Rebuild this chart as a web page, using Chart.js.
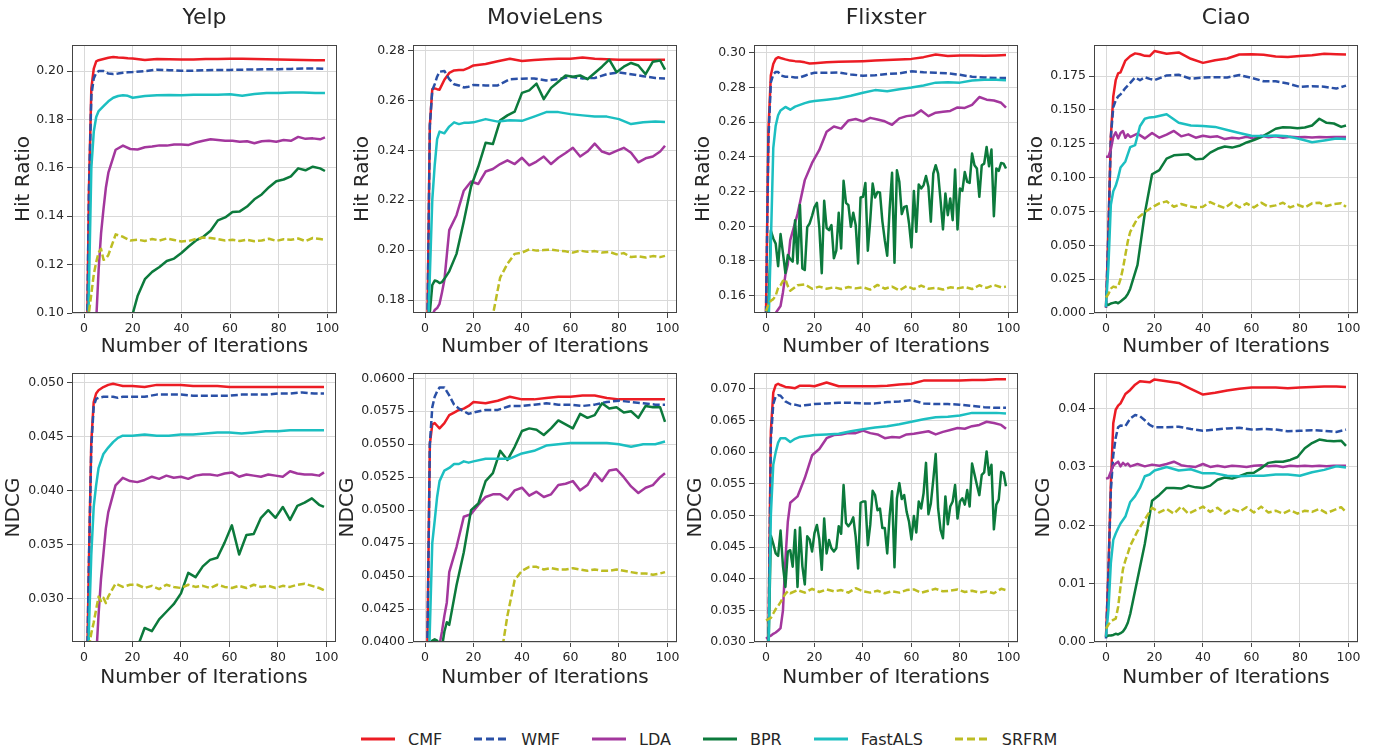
<!DOCTYPE html>
<html>
<head>
<meta charset="utf-8">
<script src="https://cdn.jsdelivr.net/npm/chart.js@4.4.1/dist/chart.umd.min.js"></script>
<style>
  body { margin: 0; background: #fff; width: 1375px; height: 751px; position: relative; overflow: hidden; font-family: 'DejaVu Sans', sans-serif; }
  canvas { position: absolute; }
  #legend { position: absolute; left: 361px; top: 729px; height: 20px; display: flex; align-items: center; gap: 32px; font-size: 16px; color: #262626; }
  #legend .item { display: flex; align-items: center; }
  #legend svg { margin-right: 13px; }
</style>
</head>
<body>
<div id="legend"></div>
<script>
// iterations (x values)
const ITER_S = [0,1,2,3,4,5,6,8,10,12,14,16,18,20,25,30,35,40,45,50,55,60,65,70,75,80,85,90,95,99];
const ITER_N = [0,1,2,3,4,5,6,7,8,9,10,13,16,19,22,25,28,31,34,37,40,43,46,49,52,55,58,61,64,67,70,73,76,79,82,85,88,91,94,97,99];
const ITER_F = Array.from({ length: 100 }, (_, i) => i);

const SERIES = ["CMF", "WMF", "LDA", "BPR", "FastALS", "SRFRM"];
const X_TICKS = [0, 20, 40, 60, 80, 100];

// tick labels of the y axes
const YELP_HR_TICKS = ["0.10", "0.12", "0.14", "0.16", "0.18", "0.20"];
const ML_HR_TICKS = ["0.18", "0.20", "0.22", "0.24", "0.26", "0.28"];
const FX_HR_TICKS = ["0.16", "0.18", "0.20", "0.22", "0.24", "0.26", "0.28", "0.30"];
const CI_HR_TICKS = ["0.000", "0.025", "0.050", "0.075", "0.100", "0.125", "0.150", "0.175"];
const YELP_ND_TICKS = ["0.030", "0.035", "0.040", "0.045", "0.050"];
const ML_ND_TICKS = ["0.0400", "0.0425", "0.0450", "0.0475", "0.0500", "0.0525", "0.0550", "0.0575", "0.0600"];
const FX_ND_TICKS = ["0.030", "0.035", "0.040", "0.045", "0.050", "0.055", "0.060", "0.065", "0.070"];
const CI_ND_TICKS = ["0.00", "0.01", "0.02", "0.03", "0.04"];

// ---- Yelp / Hit Ratio
const YELP_HR_CMF = [0.01,0.07,0.15,0.193,0.201,0.204,0.2045,0.205,0.2055,0.2058,0.2056,0.2055,0.2053,0.2052,0.2046,0.2050,0.2049,0.2048,0.2048,0.2050,0.2050,0.2051,0.2051,0.2050,0.2049,0.2048,0.2047,0.2046,0.2045,0.2045];
const YELP_HR_WMF = [0.01,0.07,0.15,0.19,0.197,0.1992,0.2000,0.2000,0.1990,0.1988,0.1990,0.1993,0.1995,0.1996,0.2000,0.2006,0.2004,0.2002,0.2002,0.2004,0.2005,0.2005,0.2006,0.2007,0.2008,0.2008,0.2009,0.2011,0.2011,0.2009];
const YELP_HR_FAST = [0.0,0.04,0.11,0.16,0.175,0.181,0.1835,0.1855,0.1875,0.189,0.1897,0.1900,0.1898,0.1890,0.1897,0.1900,0.1901,0.1900,0.1902,0.1902,0.1902,0.1904,0.1898,0.1905,0.1910,0.1910,0.1912,0.1912,0.1910,0.1910];
const YELP_HR_LDA = [0.0,0.02,0.04,0.06,0.08,0.097,0.118,0.133,0.143,0.152,0.158,0.1675,0.1692,0.1678,0.1676,0.1685,0.1688,0.1693,0.1692,0.1697,0.1697,0.1695,0.1705,0.1712,0.1718,0.1715,0.1712,0.1712,0.1708,0.1710,0.1702,0.1710,0.1712,0.1708,0.1715,0.1712,0.1728,0.1720,0.1722,0.1718,0.1726];
const YELP_HR_BPR = [null,null,null,null,null,null,null,null,null,null,null,null,0.07,0.096,0.107,0.114,0.117,0.119,0.1215,0.1225,0.1248,0.1275,0.130,0.1315,0.134,0.1383,0.1395,0.1418,0.142,0.144,0.147,0.149,0.152,0.1545,0.1552,0.1565,0.1598,0.159,0.1605,0.1598,0.1587];
const YELP_HR_SRFRM = [0.08,0.09,0.10,0.108,0.116,0.121,0.125,0.1265,0.122,0.1225,0.124,0.1325,0.1315,0.1300,0.1303,0.1298,0.1306,0.1300,0.1308,0.1302,0.1296,0.1298,0.1306,0.1312,0.1310,0.1305,0.1300,0.1303,0.1298,0.1303,0.1297,0.1300,0.1307,0.1298,0.1305,0.1303,0.1308,0.1297,0.1310,0.1306,0.1303];

// ---- MovieLens / Hit Ratio
const ML_HR_CMF = [0.10,0.17,0.25,0.2645,0.2648,0.2645,0.2643,0.2683,0.2710,0.2720,0.2722,0.2722,0.2730,0.2740,0.2746,0.2757,0.2767,0.2758,0.2762,0.2765,0.2767,0.2767,0.2772,0.2767,0.2765,0.2763,0.2763,0.2763,0.2763,0.2763];
const ML_HR_WMF = [0.10,0.17,0.25,0.264,0.2665,0.2695,0.2715,0.2718,0.2685,0.2665,0.2660,0.2652,0.2655,0.2662,0.2660,0.2660,0.2685,0.2687,0.2688,0.2680,0.2685,0.2695,0.2688,0.2690,0.2705,0.2712,0.2705,0.2697,0.2690,0.2688];
const ML_HR_FAST = [0.12,0.16,0.19,0.22,0.234,0.2445,0.2475,0.2468,0.2495,0.2512,0.2505,0.2510,0.2510,0.2512,0.2525,0.2515,0.2520,0.2518,0.2535,0.2553,0.2553,0.2545,0.2540,0.2535,0.2535,0.2525,0.2505,0.2512,0.2515,0.2513];
const ML_HR_LDA = [0.15,0.16,0.17,0.174,0.176,0.1768,0.1785,0.183,0.188,0.198,0.208,0.2140,0.2238,0.2275,0.2265,0.2315,0.2325,0.2345,0.2360,0.2345,0.2370,0.2340,0.2355,0.2375,0.2345,0.2370,0.2389,0.2410,0.2375,0.2395,0.2427,0.2395,0.2385,0.2398,0.2410,0.2390,0.2352,0.2368,0.2375,0.2395,0.2418];
const ML_HR_BPR = [0.14,0.15,0.175,0.186,0.1878,0.1875,0.1868,0.1872,0.1885,0.190,0.1915,0.1985,0.2115,0.2255,0.2335,0.2430,0.2425,0.2520,0.2540,0.2555,0.2630,0.2640,0.2667,0.2605,0.2650,0.2675,0.2700,0.2695,0.2700,0.2685,0.2710,0.2735,0.2763,0.2713,0.2735,0.2750,0.2740,0.2705,0.2755,0.2760,0.2723];
const ML_HR_SRFRM = [null,null,null,null,null,null,null,null,null,null,null,null,null,null,null,0.16,0.174,0.189,0.1945,0.1985,0.1990,0.2003,0.1998,0.2000,0.2002,0.1998,0.1995,0.1990,0.1998,0.1993,0.1996,0.1990,0.1993,0.1983,0.1988,0.1972,0.1975,0.1970,0.1976,0.1972,0.1977];

// ---- Flixster / Hit Ratio
const FX_HR_CMF = [0.15,0.255,0.287,0.2935,0.2965,0.2975,0.2970,0.2962,0.2955,0.2952,0.2950,0.2945,0.2938,0.2940,0.2945,0.2948,0.2950,0.2952,0.2955,0.2958,0.2962,0.2965,0.2975,0.2990,0.2982,0.2985,0.2985,0.2983,0.2985,0.2987];
const FX_HR_WMF = [0.15,0.25,0.283,0.2875,0.289,0.289,0.287,0.2862,0.2862,0.2858,0.2858,0.2868,0.2878,0.2885,0.2885,0.2887,0.2875,0.2868,0.2870,0.2878,0.2882,0.2893,0.2888,0.2885,0.2882,0.2873,0.2862,0.2858,0.2855,0.2855];
const FX_HR_FAST = [0.12,0.14,0.19,0.245,0.258,0.264,0.2668,0.2688,0.2672,0.2690,0.2700,0.2710,0.2718,0.2722,0.2730,0.2738,0.2752,0.2770,0.2785,0.2778,0.2790,0.2800,0.2812,0.2828,0.2830,0.2828,0.2840,0.2845,0.2845,0.2842];
const FX_HR_LDA = [0.14,0.142,0.145,0.148,0.150,0.152,0.154,0.162,0.172,0.178,0.192,0.207,0.2266,0.2365,0.2440,0.2545,0.2575,0.2563,0.2610,0.2618,0.2605,0.2625,0.2615,0.2605,0.2585,0.2622,0.2635,0.2640,0.2668,0.2635,0.2655,0.2660,0.2665,0.2685,0.2682,0.2700,0.2745,0.2730,0.2725,0.2712,0.2684];
const FX_HR_BPR = [
  0.12,0.150,0.1975,0.193,0.190,0.177,0.1955,0.1845,0.173,0.1834,
  0.181,0.1796,0.2035,0.1786,0.2122,0.1757,0.1748,0.1995,0.2016,0.2060,
  0.2110,0.2135,0.1990,0.1729,0.2147,0.1990,0.1978,0.2007,0.1815,0.1859,
  0.2078,0.1872,0.2262,0.2135,0.2122,0.1997,0.2078,0.2007,0.1786,0.2166,
  0.2170,0.2250,0.1859,0.2035,0.2246,0.2166,0.2198,0.2195,0.2030,0.1920,
  0.1830,0.2100,0.2308,0.1790,0.2323,0.2256,0.2070,0.2112,0.2116,0.2016,
  0.1878,0.2204,0.1968,0.2241,0.2218,0.2237,0.2290,0.2227,0.2026,0.2304,
  0.2352,0.2304,0.2150,0.1982,0.2189,0.2064,0.2160,0.2035,0.2327,0.1982,
  0.2218,0.2204,0.2313,0.2256,0.2250,0.2419,0.2352,0.2333,0.2170,0.2352,
  0.2361,0.2457,0.2346,0.2442,0.2058,0.2333,0.2319,0.2365,0.2361,0.2333];
const FX_HR_SRFRM = [0.151,0.155,0.157,0.158,0.160,0.1645,0.166,0.1685,0.1695,0.1655,0.1628,0.1660,0.1665,0.1640,0.1652,0.1640,0.1648,0.1638,0.1650,0.1642,0.1648,0.1635,0.1662,0.1640,0.1652,0.1630,0.1655,0.1638,0.1658,0.1640,0.1645,0.1635,0.1648,0.1642,0.1650,0.1638,0.1660,0.1645,0.1662,0.1648,0.1652];

// ---- Ciao / Hit Ratio
const CI_HR_CMF = [0.004,0.06,0.13,0.16,0.172,0.177,0.1778,0.1865,0.1898,0.1918,0.1912,0.1900,0.1898,0.1935,0.1915,0.1925,0.1878,0.1848,0.1868,0.1880,0.1910,0.1912,0.1908,0.1895,0.1892,0.1898,0.1905,0.1915,0.1912,0.1910];
const CI_HR_WMF = [0.004,0.06,0.13,0.152,0.157,0.160,0.1615,0.1662,0.1700,0.1740,0.1720,0.1742,0.1730,0.1720,0.1755,0.1760,0.1730,0.1740,0.1742,0.1740,0.1758,0.1738,0.1712,0.1712,0.1695,0.1670,0.1676,0.1672,0.1658,0.1680];
const CI_HR_FAST = [0.0045,0.035,0.080,0.090,0.094,0.100,0.1075,0.1120,0.1225,0.1240,0.1380,0.1435,0.1445,0.1448,0.1468,0.1405,0.1385,0.1382,0.1375,0.1352,0.1330,0.1310,0.1307,0.1312,0.1305,0.1285,0.1262,0.1275,0.1290,0.1285];
const CI_HR_LDA = [0.1155,0.1155,0.1210,0.1300,0.1335,0.1290,0.1330,0.1345,0.1295,0.1320,0.1300,0.1325,0.1290,0.1330,0.1295,0.1318,0.1345,0.1305,0.1320,0.1295,0.1310,0.1300,0.1305,0.1285,0.1295,0.1290,0.1302,0.1288,0.1310,0.1298,0.1305,0.1295,0.1302,0.1298,0.1300,0.1296,0.1300,0.1298,0.1300,0.1300,0.1300];
const CI_HR_BPR = [0.0065,0.0060,0.0070,0.0075,0.0080,0.0072,0.0085,0.0100,0.0115,0.0140,0.0180,0.0355,0.0735,0.1025,0.1055,0.1140,0.1165,0.1170,0.1172,0.1135,0.1140,0.1185,0.1213,0.1230,0.1222,0.1235,0.1260,0.1278,0.1300,0.1330,0.1361,0.1372,0.1370,0.1365,0.1370,0.1385,0.1435,0.1405,0.1400,0.1375,0.1385];
const CI_HR_SRFRM = [0.0115,0.0140,0.0180,0.0195,0.0190,0.0195,0.0250,0.0330,0.0430,0.0530,0.0600,0.0700,0.0745,0.0780,0.0810,0.0825,0.0785,0.0805,0.0790,0.0780,0.0785,0.0820,0.0795,0.0775,0.0815,0.0780,0.0810,0.0780,0.0815,0.0785,0.0795,0.0815,0.0780,0.0800,0.0780,0.0810,0.0815,0.0790,0.0805,0.0810,0.0785];

// ---- Yelp / NDCG
const YELP_ND_CMF = [0.0,0.02,0.033,0.0445,0.0482,0.0490,0.0493,0.0496,0.0498,0.0499,0.0498,0.0497,0.0497,0.0497,0.0496,0.0498,0.0498,0.0498,0.0497,0.0497,0.0497,0.0496,0.0496,0.0496,0.0496,0.0496,0.0496,0.0496,0.0496,0.0496];
const YELP_ND_WMF = [0.0,0.02,0.033,0.0440,0.0478,0.0485,0.0486,0.0487,0.0487,0.0487,0.0486,0.0487,0.0487,0.0487,0.0487,0.0489,0.0489,0.0489,0.0488,0.0488,0.0488,0.0488,0.0489,0.0489,0.0489,0.0490,0.0490,0.0491,0.0490,0.0490];
const YELP_ND_FAST = [0.0,0.01,0.027,0.034,0.0385,0.0405,0.0421,0.0434,0.0440,0.0445,0.0449,0.0451,0.0451,0.0451,0.0452,0.0451,0.0451,0.0452,0.0452,0.0453,0.0454,0.0454,0.0453,0.0454,0.0455,0.0455,0.0456,0.0456,0.0456,0.0456];
const YELP_ND_LDA = [0.0,0.005,0.01,0.015,0.020,0.0245,0.0285,0.0318,0.0341,0.0365,0.0380,0.0405,0.0412,0.0409,0.0408,0.0410,0.0413,0.0411,0.0414,0.0412,0.0413,0.0411,0.0414,0.0415,0.0415,0.0414,0.0416,0.0417,0.0413,0.0415,0.0414,0.0413,0.0415,0.0414,0.0413,0.0418,0.0416,0.0415,0.0415,0.0414,0.0417];
const YELP_ND_BPR = [null,null,null,null,null,null,null,null,null,null,null,null,null,0.020,0.0255,0.0273,0.0270,0.0281,0.0288,0.0295,0.0305,0.0324,0.0320,0.0330,0.0336,0.0338,0.0352,0.0368,0.0341,0.0359,0.0360,0.0375,0.0382,0.0375,0.0385,0.0373,0.0386,0.0389,0.0393,0.0387,0.0385];
const YELP_ND_SRFRM = [0.020,0.023,0.0255,0.0268,0.0278,0.0290,0.0302,0.0298,0.0301,0.0296,0.0302,0.0314,0.0311,0.0313,0.0313,0.0310,0.0312,0.0309,0.0313,0.0311,0.0310,0.0313,0.0311,0.0312,0.0310,0.0313,0.0311,0.0310,0.0312,0.0310,0.0313,0.0311,0.0312,0.0310,0.0312,0.0311,0.0313,0.0314,0.0312,0.0310,0.0308];

// ---- MovieLens / NDCG
const ML_ND_CMF = [0.035,0.04,0.0550,0.0565,0.0566,0.0564,0.0562,0.0566,0.0572,0.0574,0.0576,0.0577,0.0579,0.0582,0.0581,0.0583,0.0586,0.0584,0.0584,0.0585,0.0586,0.0586,0.0587,0.0587,0.0585,0.0584,0.0584,0.0584,0.0584,0.0584];
const ML_ND_WMF = [0.035,0.04,0.0550,0.0578,0.0586,0.0590,0.0593,0.0593,0.0587,0.0580,0.0577,0.0575,0.0573,0.0574,0.0576,0.0576,0.0579,0.0579,0.0580,0.0581,0.0580,0.0580,0.0579,0.0580,0.0582,0.0583,0.0582,0.0581,0.0580,0.0580];
const ML_ND_FAST = [0.030,0.035,0.041,0.0475,0.0492,0.0510,0.0522,0.0530,0.0532,0.0535,0.0535,0.0537,0.0536,0.0537,0.0539,0.0539,0.0539,0.0543,0.0545,0.0549,0.0550,0.0551,0.0551,0.0551,0.0551,0.0550,0.0548,0.0550,0.0550,0.0552];
const ML_ND_LDA = [0.030,0.032,0.034,0.036,0.037,0.038,0.0398,0.0408,0.0420,0.0430,0.0453,0.0472,0.0495,0.0497,0.0504,0.0510,0.0512,0.0512,0.0508,0.0515,0.0517,0.0511,0.0514,0.0510,0.0512,0.0519,0.0520,0.0522,0.0515,0.0519,0.0528,0.0522,0.0530,0.0531,0.0525,0.0518,0.0513,0.0517,0.0519,0.0525,0.0528];
const ML_ND_BPR = [0.039,0.0395,0.0398,0.0401,0.0402,0.0401,0.0398,0.0396,0.0408,0.0415,0.0413,0.0443,0.0468,0.0500,0.0505,0.0522,0.0528,0.0545,0.0538,0.0548,0.0560,0.0562,0.0561,0.0557,0.0562,0.0568,0.0565,0.0562,0.0573,0.0570,0.0572,0.0581,0.0577,0.0578,0.0574,0.0575,0.0570,0.0579,0.0578,0.0578,0.0567];
const ML_ND_SRFRM = [null,null,null,null,null,null,null,null,null,null,null,null,null,null,null,null,0.036,0.0385,0.0420,0.0447,0.0454,0.0457,0.0457,0.0455,0.0456,0.0455,0.0455,0.0456,0.0455,0.0454,0.0455,0.0454,0.0454,0.0455,0.0454,0.0453,0.0452,0.0452,0.0451,0.0452,0.0453];

// ---- Flixster / NDCG
const FX_ND_CMF = [0.025,0.030,0.0633,0.0694,0.0706,0.0708,0.0706,0.0703,0.0702,0.0701,0.0705,0.0705,0.0705,0.0704,0.0710,0.0704,0.0704,0.0704,0.0704,0.0705,0.0707,0.0708,0.0713,0.0713,0.0713,0.0713,0.0714,0.0714,0.0715,0.0715];
const FX_ND_WMF = [0.025,0.030,0.0620,0.0676,0.0688,0.0690,0.0689,0.0680,0.0676,0.0675,0.0673,0.0674,0.0675,0.0676,0.0677,0.0678,0.0678,0.0677,0.0677,0.0679,0.0680,0.0682,0.0677,0.0676,0.0676,0.0675,0.0673,0.0671,0.0670,0.0670];
const FX_ND_FAST = [0.020,0.028,0.0500,0.0580,0.0600,0.0615,0.0622,0.0622,0.0616,0.0621,0.0624,0.0625,0.0626,0.0627,0.0628,0.0629,0.0633,0.0636,0.0639,0.0641,0.0644,0.0648,0.0652,0.0655,0.0656,0.0658,0.0662,0.0662,0.0662,0.0661];
const FX_ND_LDA = [0.0305,0.0308,0.0310,0.0313,0.0315,0.0318,0.0322,0.0350,0.0430,0.0490,0.0520,0.0530,0.0559,0.0595,0.0605,0.0622,0.0627,0.0628,0.0630,0.0630,0.0634,0.0630,0.0628,0.0622,0.0624,0.0623,0.0628,0.0629,0.0631,0.0633,0.0628,0.0632,0.0635,0.0638,0.0637,0.0641,0.0643,0.0648,0.0646,0.0643,0.0637];
const FX_ND_BPR = [
  0.020,0.028,0.0468,0.0455,0.0440,0.0436,0.0476,0.0420,0.0387,0.0443,
  0.0445,0.0419,0.0477,0.0387,0.0481,0.0420,0.0391,0.0467,0.0462,0.0443,
  0.0472,0.0485,0.0462,0.0414,0.0495,0.0440,0.0461,0.0448,0.0443,0.0448,
  0.0483,0.0471,0.0548,0.0488,0.0483,0.0488,0.0497,0.0466,0.0416,0.0520,
  0.0522,0.0522,0.0453,0.0485,0.0539,0.0532,0.0508,0.0511,0.0480,0.0480,
  0.0440,0.0500,0.0538,0.0418,0.0527,0.0551,0.0526,0.0532,0.0506,0.0490,
  0.0462,0.0499,0.0473,0.0522,0.0511,0.0535,0.0583,0.0502,0.0519,0.0556,
  0.0597,0.0511,0.0477,0.0464,0.0530,0.0486,0.0514,0.0522,0.0548,0.0495,
  0.0522,0.0527,0.0517,0.0540,0.0514,0.0582,0.0565,0.0548,0.0532,0.0564,
  0.0568,0.0601,0.0564,0.0580,0.0478,0.0517,0.0525,0.0569,0.0567,0.0546];
const FX_ND_SRFRM = [0.0334,0.0336,0.0338,0.0345,0.0352,0.0357,0.0363,0.0370,0.0376,0.0380,0.0377,0.0382,0.0378,0.0384,0.0379,0.0383,0.0380,0.0382,0.0378,0.0385,0.0380,0.0378,0.0381,0.0377,0.0380,0.0378,0.0382,0.0383,0.0378,0.0381,0.0384,0.0380,0.0381,0.0383,0.0379,0.0381,0.0378,0.0380,0.0377,0.0384,0.0382];

// ---- Ciao / NDCG
const CI_ND_CMF = [0.0009,0.012,0.027,0.0375,0.0398,0.0405,0.0409,0.0425,0.0432,0.0441,0.0447,0.0446,0.0445,0.0450,0.0447,0.0444,0.0434,0.0424,0.0427,0.0431,0.0434,0.0436,0.0436,0.0436,0.0435,0.0436,0.0437,0.0438,0.0438,0.0437];
const CI_ND_WMF = [0.0006,0.012,0.026,0.032,0.035,0.0368,0.0371,0.0370,0.0383,0.0389,0.0387,0.0380,0.0372,0.0368,0.0368,0.0369,0.0365,0.0362,0.0364,0.0366,0.0367,0.0364,0.0365,0.0364,0.0361,0.0362,0.0363,0.0362,0.0360,0.0364];
const CI_ND_FAST = [0.0009,0.0055,0.0135,0.0175,0.0186,0.0195,0.0203,0.0215,0.0240,0.0250,0.0264,0.0284,0.0287,0.0294,0.0300,0.0294,0.0296,0.0289,0.0289,0.0285,0.0284,0.0285,0.0285,0.0287,0.0287,0.0285,0.0291,0.0295,0.0301,0.0299];
const CI_ND_LDA = [0.0280,0.0281,0.0292,0.0302,0.0306,0.0309,0.0301,0.0307,0.0303,0.0306,0.0301,0.0305,0.0301,0.0304,0.0302,0.0305,0.0309,0.0303,0.0301,0.0300,0.0305,0.0300,0.0302,0.0300,0.0302,0.0301,0.0300,0.0302,0.0303,0.0301,0.0302,0.0300,0.0302,0.0301,0.0302,0.0301,0.0302,0.0301,0.0302,0.0302,0.0302];
const CI_ND_BPR = [0.0009,0.0011,0.0011,0.0012,0.0014,0.0013,0.0015,0.0018,0.0024,0.0033,0.0048,0.0108,0.0168,0.0242,0.0252,0.0264,0.0264,0.0263,0.0268,0.0265,0.0264,0.0268,0.0278,0.0282,0.0280,0.0284,0.0289,0.0290,0.0298,0.0307,0.0309,0.0309,0.0312,0.0317,0.0332,0.0341,0.0347,0.0345,0.0344,0.0345,0.0336];
const CI_ND_SRFRM = [0.0023,0.0030,0.0035,0.0038,0.0040,0.0060,0.0095,0.0125,0.0140,0.0152,0.0165,0.0190,0.0210,0.0230,0.0222,0.0228,0.0220,0.0232,0.0220,0.0226,0.0232,0.0223,0.0230,0.0220,0.0228,0.0223,0.0231,0.0222,0.0232,0.0222,0.0225,0.0220,0.0226,0.0220,0.0225,0.0223,0.0228,0.0221,0.0226,0.0231,0.0223];

// panels: [title, y title, tick labels, y min, y max, series in SERIES order as [iterations, values]]
const PANELS = [
  ["Yelp", "Hit Ratio", YELP_HR_TICKS, 0.10, 0.2108,
    [[ITER_S, YELP_HR_CMF], [ITER_S, YELP_HR_WMF], [ITER_N, YELP_HR_LDA], [ITER_N, YELP_HR_BPR], [ITER_S, YELP_HR_FAST], [ITER_N, YELP_HR_SRFRM]]],
  ["MovieLens", "Hit Ratio", ML_HR_TICKS, 0.1748, 0.2822,
    [[ITER_S, ML_HR_CMF], [ITER_S, ML_HR_WMF], [ITER_N, ML_HR_LDA], [ITER_N, ML_HR_BPR], [ITER_S, ML_HR_FAST], [ITER_N, ML_HR_SRFRM]]],
  ["Flixster", "Hit Ratio", FX_HR_TICKS, 0.1500, 0.3045,
    [[ITER_S, FX_HR_CMF], [ITER_S, FX_HR_WMF], [ITER_N, FX_HR_LDA], [ITER_F, FX_HR_BPR], [ITER_S, FX_HR_FAST], [ITER_N, FX_HR_SRFRM]]],
  ["Ciao", "Hit Ratio", CI_HR_TICKS, 0, 0.198,
    [[ITER_S, CI_HR_CMF], [ITER_S, CI_HR_WMF], [ITER_N, CI_HR_LDA], [ITER_N, CI_HR_BPR], [ITER_S, CI_HR_FAST], [ITER_N, CI_HR_SRFRM]]],
  ["", "NDCG", YELP_ND_TICKS, 0.0260, 0.0509,
    [[ITER_S, YELP_ND_CMF], [ITER_S, YELP_ND_WMF], [ITER_N, YELP_ND_LDA], [ITER_N, YELP_ND_BPR], [ITER_S, YELP_ND_FAST], [ITER_N, YELP_ND_SRFRM]]],
  ["", "NDCG", ML_ND_TICKS, 0.0400, 0.0604,
    [[ITER_S, ML_ND_CMF], [ITER_S, ML_ND_WMF], [ITER_N, ML_ND_LDA], [ITER_N, ML_ND_BPR], [ITER_S, ML_ND_FAST], [ITER_N, ML_ND_SRFRM]]],
  ["", "NDCG", FX_ND_TICKS, 0.0300, 0.0725,
    [[ITER_S, FX_ND_CMF], [ITER_S, FX_ND_WMF], [ITER_N, FX_ND_LDA], [ITER_F, FX_ND_BPR], [ITER_S, FX_ND_FAST], [ITER_N, FX_ND_SRFRM]]],
  ["", "NDCG", CI_ND_TICKS, 0, 0.0461,
    [[ITER_S, CI_ND_CMF], [ITER_S, CI_ND_WMF], [ITER_N, CI_ND_LDA], [ITER_N, CI_ND_BPR], [ITER_S, CI_ND_FAST], [ITER_N, CI_ND_SRFRM]]],
];

// canvas boxes: left, top, width, height, y-axis width, x-axis height
const BOXES = [
  [12, 0, 337, 359, 60, 46], [351, 0, 338, 359, 62, 46], [692, 0, 338, 359, 62, 46], [1025, 0, 345, 359, 69, 46],
  [2, 361, 346, 329, 70, 48], [336, 361, 353, 329, 77, 48], [684, 361, 346, 329, 70, 48], [1032, 361, 338, 329, 62, 48],
];

// styles
const COLORS = ["#ec1c24", "#2a50a6", "#a3379d", "#0c7a3c", "#1cbfc1", "#bdbd23"];
const DASHED = [false, true, false, false, false, true];
const TEXT = "#262626";
const GRID = "#d9d9d9";
const SPINE = "#444444";

Chart.defaults.font.family = "'DejaVu Sans', sans-serif";
Chart.defaults.color = TEXT;

// frame around the plot area (all four spines)
const frame = {
  id: "frame",
  afterDraw(chart) {
    const { ctx, chartArea: a } = chart;
    ctx.save();
    ctx.strokeStyle = SPINE;
    ctx.lineWidth = 1;
    ctx.strokeRect(Math.round(a.left) + 0.5, Math.round(a.top) + 0.5, Math.round(a.right - a.left) - 1, Math.round(a.bottom - a.top) - 1);
    ctx.restore();
  },
};

PANELS.forEach((p, n) => {
  const [title, yTitle, tickLabels, yMin, yMax, lines] = p;
  const [left, top, w, h, yw, xh] = BOXES[n];
  const topRow = n < 4;
  const canvas = document.createElement("canvas");
  canvas.width = w;
  canvas.height = h;
  canvas.style.left = left + "px";
  canvas.style.top = top + "px";
  canvas.style.width = w + "px";
  canvas.style.height = h + "px";
  document.body.appendChild(canvas);

  const datasets = SERIES.map((name, k) => ({
    label: name,
    data: lines[k][0].map((x, j) => ({ x: x, y: lines[k][1][j] })),
    borderColor: COLORS[k],
    borderWidth: 2.5,
    borderDash: DASHED[k] ? [7, 3] : [],
    borderCapStyle: "butt",
    borderJoinStyle: "round",
    pointRadius: 0,
    tension: 0,
    order: SERIES.length - k, // later series drawn on top
  }));

  new Chart(canvas, {
    type: "line",
    data: { datasets: datasets },
    options: {
      responsive: false,
      animation: false,
      devicePixelRatio: 1,
      layout: { padding: { left: 0, right: 12, top: topRow ? 0 : 12, bottom: 0 } },
      plugins: {
        legend: { display: false },
        tooltip: { enabled: false },
        title: {
          display: topRow,
          text: title,
          fullSize: false,
          color: TEXT,
          font: { size: 22, weight: "normal" },
          padding: { top: 4.8, bottom: 13.8 },
        },
      },
      scales: {
        x: {
          type: "linear",
          min: -4.95,
          max: 103.95,
          bounds: "data",
          afterBuildTicks: (s) => { s.ticks = X_TICKS.map((v) => ({ value: v })); },
          afterFit: (s) => { s.height = xh; },
          ticks: { font: { size: 12.5 }, color: TEXT, padding: 3, maxRotation: 0, autoSkip: false, callback: (v) => String(v) },
          grid: { color: GRID, lineWidth: 1, tickColor: SPINE, tickLength: 5 },
          border: { display: false },
          title: { display: true, text: "Number of Iterations", color: TEXT, font: { size: 20 }, padding: 0 },
        },
        y: {
          type: "linear",
          min: yMin,
          max: yMax,
          bounds: "data",
          afterBuildTicks: (s) => { s.ticks = tickLabels.map((t) => ({ value: Number(t) })); },
          afterFit: (s) => { s.width = yw; },
          ticks: { font: { size: 12.5 }, color: TEXT, padding: 3, autoSkip: false, callback: (v, i) => tickLabels[i] },
          grid: { color: GRID, lineWidth: 1, tickColor: SPINE, tickLength: 5 },
          border: { display: false },
          title: { display: true, text: yTitle, color: TEXT, font: { size: 20 }, padding: 0 },
        },
      },
    },
    plugins: [frame],
  });
});

// legend under the panels
const legend = document.getElementById("legend");
SERIES.forEach((name, k) => {
  const item = document.createElement("span");
  item.className = "item";
  const dash = DASHED[k] ? ' stroke-dasharray="8 4"' : "";
  item.innerHTML = '<svg width="34" height="10"><line x1="0" y1="5" x2="34" y2="5" stroke="' + COLORS[k] +
    '" stroke-width="3"' + dash + '/></svg><span>' + name + "</span>";
  legend.appendChild(item);
});
</script>
</body>
</html>
